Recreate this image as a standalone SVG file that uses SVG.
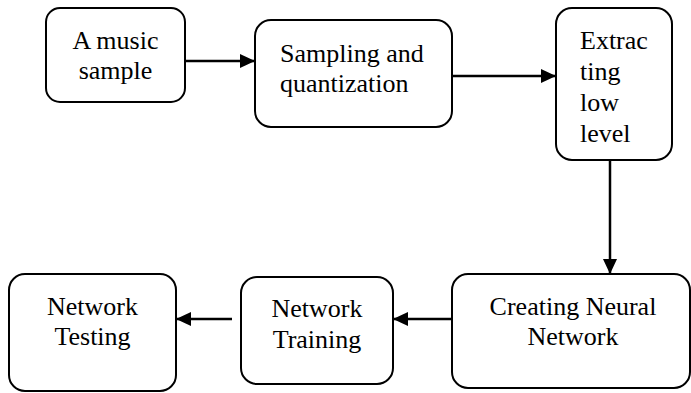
<svg xmlns="http://www.w3.org/2000/svg" width="691" height="393" viewBox="0 0 691 393">
<defs>
<marker id="ah" markerUnits="userSpaceOnUse" markerWidth="16" markerHeight="16" refX="15" refY="7" orient="auto">
<path d="M0,0 L15,7 L0,14 z" fill="#000"/>
</marker>
<style>
.box{fill:#fff;stroke:#000;stroke-width:2}
.t{font-family:'Liberation Serif','DejaVu Serif',serif;font-size:26px;fill:#000}
.c{text-anchor:middle}
.edge{stroke:#000;stroke-width:2.5;fill:none;marker-end:url(#ah)}
</style>
</defs>
<rect width="691" height="393" fill="#fff"/>
<g id="n1">
<rect class="box" x="46" y="8" width="139" height="94" rx="14"/>
<text class="t c" x="115.5" y="49">A music</text>
<text class="t c" x="115.5" y="79">sample</text>
</g>
<g id="n2">
<rect class="box" x="255" y="20" width="197" height="107" rx="16"/>
<text class="t" x="280" y="62">Sampling and</text>
<text class="t" x="280" y="92">quantization</text>
</g>
<g id="n3">
<rect class="box" x="556" y="8" width="116" height="152" rx="16"/>
<text class="t" x="580" y="49">Extrac</text>
<text class="t" x="580" y="80">ting</text>
<text class="t" x="580" y="111">low</text>
<text class="t" x="580" y="142">level</text>
</g>
<g id="n4">
<rect class="box" x="452" y="274" width="238" height="114" rx="16"/>
<text class="t c" x="573" y="315">Creating Neural</text>
<text class="t c" x="573" y="345">Network</text>
</g>
<g id="n5">
<rect class="box" x="241" y="277" width="152" height="107" rx="16"/>
<text class="t c" x="317" y="317">Network</text>
<text class="t c" x="317" y="348">Training</text>
</g>
<g id="n6">
<rect class="box" x="9" y="274" width="167" height="117" rx="16"/>
<text class="t c" x="92.5" y="315">Network</text>
<text class="t c" x="92.5" y="345">Testing</text>
</g>
<g id="connectors">
<line class="edge" x1="185" y1="61" x2="255" y2="61"/>
<line class="edge" x1="452" y1="76" x2="556" y2="76"/>
<line class="edge" x1="610" y1="160" x2="610" y2="274"/>
<line class="edge" x1="452" y1="319" x2="393" y2="319"/>
<line class="edge" x1="232" y1="319" x2="176" y2="319"/>
</g>
</svg>
